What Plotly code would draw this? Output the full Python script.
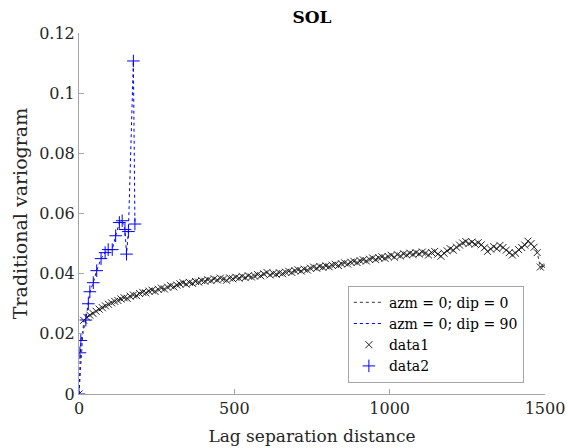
import plotly.graph_objects as go

# ---- data ----
lag1 = [0, 15, 25, 35, 45, 55, 65, 75, 85, 95, 105, 115, 125, 135, 145, 155, 165, 175, 185, 195,
        205, 215, 225, 235, 245, 255, 265, 275, 285, 295, 305, 315, 325, 335, 345, 355, 365, 375, 385, 395,
        405, 415, 425, 435, 445, 455, 465, 475, 485, 495, 505, 515, 525, 535, 545, 555, 565, 575, 585, 595,
        605, 615, 625, 635, 645, 655, 665, 675, 685, 695, 705, 715, 725, 735, 745, 755, 765, 775, 785, 795,
        805, 815, 825, 835, 845, 855, 865, 875, 885, 895, 905, 915, 925, 935, 945, 955, 965, 975, 985, 995,
        1005, 1015, 1025, 1035, 1045, 1055, 1065, 1075, 1085, 1095, 1105, 1115, 1125, 1135, 1145, 1155, 1165, 1175, 1185, 1195,
        1205, 1215, 1225, 1235, 1245, 1255, 1265, 1275, 1285, 1295, 1305, 1315, 1325, 1335, 1345, 1355, 1365, 1375, 1385, 1395,
        1405, 1415, 1425, 1435, 1445, 1455, 1465, 1475, 1485, 1495]
gamma1 = [0.0, 0.0245, 0.0255, 0.0262, 0.0268, 0.0275, 0.0282, 0.0287, 0.0293, 0.0298,
          0.0303, 0.0308, 0.0311, 0.0316, 0.0320, 0.0318, 0.0325, 0.0329, 0.0327, 0.0334,
          0.0338, 0.0336, 0.0342, 0.0345, 0.0341, 0.0348, 0.0352, 0.0349, 0.0355, 0.0360,
          0.0356, 0.0362, 0.0366, 0.0370, 0.0365, 0.0371, 0.0368, 0.0374, 0.0372, 0.0377,
          0.0375, 0.0380, 0.0377, 0.0383, 0.0379, 0.0385, 0.0382, 0.0378, 0.0386, 0.0383,
          0.0388, 0.0385, 0.0391, 0.0387, 0.0393, 0.0389, 0.0392, 0.0397, 0.0393, 0.0399,
          0.0404, 0.0396, 0.0401, 0.0398, 0.0403, 0.0400, 0.0405, 0.0408, 0.0404, 0.0410,
          0.0413, 0.0409, 0.0415, 0.0412, 0.0418, 0.0422, 0.0418, 0.0424, 0.0421, 0.0426,
          0.0423, 0.0428, 0.0431, 0.0427, 0.0433, 0.0436, 0.0432, 0.0438, 0.0441, 0.0437,
          0.0443, 0.0446, 0.0442, 0.0448, 0.0452, 0.0447, 0.0453, 0.0456, 0.0451, 0.0457,
          0.0461, 0.0455, 0.0463, 0.0459, 0.0466, 0.0462, 0.0468, 0.0464, 0.0470, 0.0466,
          0.0472, 0.0468, 0.0462, 0.0470, 0.0474, 0.0465, 0.0458, 0.0468, 0.0476, 0.0483,
          0.0478, 0.0488, 0.0495, 0.0502, 0.0507, 0.0500, 0.0505, 0.0498, 0.0503, 0.0496,
          0.0486, 0.0474, 0.0482, 0.0490, 0.0483, 0.0494, 0.0487, 0.0478, 0.0470, 0.0462,
          0.0468, 0.0480, 0.0487, 0.0495, 0.0508, 0.0500, 0.0488, 0.0470, 0.0422, 0.0425]

lag2 = [0, 3, 6, 22, 30, 35, 46, 57, 71, 84, 94, 107, 118, 130, 139, 148, 153, 159, 175, 180]
gamma2 = [0.0, 0.0137, 0.0178, 0.0246, 0.0300, 0.0340, 0.0370, 0.0410, 0.0450, 0.0470,
          0.0480, 0.0480, 0.0526, 0.0570, 0.0576, 0.0547, 0.0465, 0.0540, 0.1107, 0.0565]

line_names = ["azm = 0; dip = 0", "azm = 0; dip = 90"]
marker_names = ["data1", "data2"]
xtick_vals = [0, 500, 1000, 1500]
xtick_text = ["0", "500", "1000", "1500"]
ytick_vals = [0, 0.02, 0.04, 0.06, 0.08, 0.1, 0.12]
ytick_text = ["0", "0.02", "0.04", "0.06", "0.08", "0.1", "0.12"]

FONT = "DejaVu Serif"
AXC = "#a6a6a6"
TXT = "#262626"

fig = go.Figure()
fig.add_trace(go.Scatter(x=lag1, y=gamma1, mode="lines", name=line_names[0],
                         line=dict(color="#333333", width=1, dash="dot")))
fig.add_trace(go.Scatter(x=lag2, y=gamma2, mode="lines", name=line_names[1],
                         line=dict(color="blue", width=1, dash="dot")))
fig.add_trace(go.Scatter(x=lag1, y=gamma1, mode="markers", name=marker_names[0],
                         marker=dict(symbol="x-thin", size=7, color="#222222",
                                     line=dict(width=1, color="#222222"))))
fig.add_trace(go.Scatter(x=lag2, y=gamma2, mode="markers", name=marker_names[1],
                         marker=dict(symbol="cross-thin", size=9, color="blue",
                                     line=dict(width=1, color="blue"))))

fig.update_layout(
    width=568, height=448,
    margin=dict(l=79, r=23, t=33, b=54, autoexpand=False),
    paper_bgcolor="white", plot_bgcolor="white",
    title=dict(text="<b>SOL</b>", x=312 / 568, xanchor="center",
               y=1 - 17 / 448, yanchor="middle", yref="container",
               font=dict(family=FONT, size=17, color="black")),
    showlegend=True,
    legend=dict(x=0.577, y=0.30, xanchor="left", yanchor="top",
                bgcolor="white", bordercolor=AXC, borderwidth=1,
                font=dict(family=FONT, size=14, color="black"),
                tracegroupgap=0),
    xaxis=dict(range=[0, 1500], tickvals=xtick_vals, ticktext=xtick_text, automargin=False,
               showline=True, linecolor=AXC, linewidth=1, mirror=False,
               ticks="inside", ticklen=5, tickcolor=AXC, showgrid=False, zeroline=False,
               title=dict(text="Lag separation distance", standoff=12,
                          font=dict(family=FONT, size=17, color=TXT)),
               tickfont=dict(family=FONT, size=16, color=TXT)),
    yaxis=dict(range=[0, 0.12], tickvals=ytick_vals, ticktext=ytick_text, automargin=False,
               showline=True, linecolor=AXC, linewidth=1, mirror=False,
               ticks="inside", ticklen=5, tickcolor=AXC, showgrid=False, zeroline=False,
               title=dict(text="Traditional variogram", standoff=6,
                          font=dict(family=FONT, size=19, color=TXT)),
               tickfont=dict(family=FONT, size=16, color=TXT)),
)

fig.write_html("out.html")
